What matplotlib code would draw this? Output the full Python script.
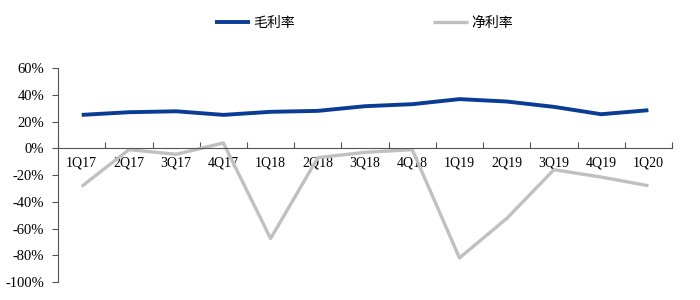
import matplotlib
matplotlib.use("Agg")
import matplotlib.pyplot as plt
import numpy as np

plt.rcParams['font.family'] = ['Liberation Serif', 'Noto Sans CJK SC', 'DejaVu Sans']

# ---- data ----
quarters = ["1Q17", "2Q17", "3Q17", "4Q17", "1Q18", "2Q18", "3Q18",
            "4Q18", "1Q19", "2Q19", "3Q19", "4Q19", "1Q20"]
gross_margin = [25.0, 27.0, 27.7, 25.0, 27.3, 28.0, 31.5,
                33.0, 36.8, 35.0, 31.0, 25.5, 28.5]
net_margin = [-28.5, -1.0, -4.5, 4.0, -67.5, -7.0, -3.0,
              -1.0, -82.0, -52.5, -16.0, -21.5, -28.0]

blue = "#0A3C96"
grey = "#C0C0C0"

fig = plt.figure(figsize=(7, 3), dpi=100)
ax = fig.add_axes([0.083, 0.06, 0.877, 0.713])

x = np.arange(len(quarters))
ax.plot(x, gross_margin, color=blue, lw=2.8, label="毛利率", solid_capstyle="butt")
ax.plot(x, net_margin, color=grey, lw=2.4, label="净利率", solid_capstyle="butt")

ax.set_xlim(-0.5, len(quarters) - 0.5)
ax.set_ylim(-100, 60)
ax.set_yticks(np.arange(-100, 61, 20))
ax.set_yticklabels([f"{v}%" for v in range(-100, 61, 20)], fontsize=10.5)
ax.tick_params(axis="y", direction="out", length=4, width=0.8, color="#555555", pad=6)

# x axis sits on the 0% line, ticks between categories pointing up
ax.spines["bottom"].set_position(("data", 0))
ax.spines["top"].set_visible(False)
ax.spines["right"].set_visible(False)
for s in ("left", "bottom"):
    ax.spines[s].set_color("#555555")
    ax.spines[s].set_linewidth(0.8)
ax.set_xticks(x)
ax.set_xticklabels(quarters, fontsize=10)
ax.tick_params(axis="x", which="major", length=0, pad=6)
ax.set_xticks(np.arange(-0.5, len(quarters), 1), minor=True)
ax.tick_params(axis="x", which="minor", direction="in", length=4, width=0.8, color="#555555")

fig.legend(loc="upper center", bbox_to_anchor=(0.52, 0.985), ncol=2, frameon=False,
           handlelength=2.5, handletextpad=0.2, columnspacing=10, fontsize=10)

fig.savefig("out.png", dpi=100)
